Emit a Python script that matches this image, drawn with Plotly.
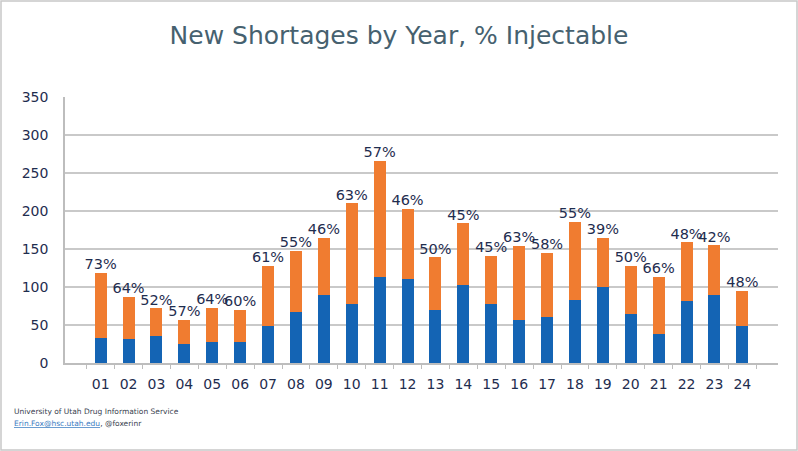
import plotly.graph_objects as go

# years (two-digit labels) and shortage counts
years = ['01', '02', '03', '04', '05', '06', '07', '08', '09', '10', '11', '12',
         '13', '14', '15', '16', '17', '18', '19', '20', '21', '22', '23', '24']
non_injectable = [33, 32, 35, 25, 27, 28, 49, 67, 90, 77, 113, 110,
                  70, 102, 78, 57, 61, 83, 100, 64, 38, 82, 90, 49]
injectable = [86, 55, 37, 32, 46, 42, 79, 81, 75, 133, 153, 93,
              69, 82, 63, 97, 84, 103, 65, 64, 75, 77, 65, 46]
pct_labels = ['73%', '64%', '52%', '57%', '64%', '60%', '61%', '55%', '46%', '63%', '57%', '46%',
              '50%', '45%', '45%', '63%', '58%', '55%', '39%', '50%', '66%', '48%', '42%', '48%']

totals = [a + b for a, b in zip(non_injectable, injectable)]

FONT = 'DejaVu Sans'
NAVY = '#1f2d4f'

fig = go.Figure()
fig.add_trace(go.Bar(x=years, y=non_injectable, marker_color='#1464b4',
                     marker_line_width=0, name='Non-injectable'))
fig.add_trace(go.Bar(x=years, y=injectable, marker_color='#f07c30',
                     marker_line_width=0, name='Injectable'))
fig.add_trace(go.Scatter(x=years, y=totals, mode='text', text=pct_labels,
                         textposition='top center', cliponaxis=False,
                         textfont=dict(family=FONT, size=14.5, color=NAVY),
                         hoverinfo='skip'))

fig.update_layout(
    width=798, height=451,
    margin=dict(l=65, r=20, t=97, b=88),
    barmode='stack', bargap=0.57,
    showlegend=False,
    paper_bgcolor='white', plot_bgcolor='white',
    title=dict(text='New Shortages by Year, % Injectable', x=0.5, xanchor='center',
               y=0.922, yanchor='middle',
               font=dict(family=FONT, size=25, color='#46616f')),
    font=dict(family=FONT, color=NAVY),
)
fig.update_yaxes(range=[0, 350], dtick=50, showgrid=True, gridcolor='#c9c9c9', gridwidth=1.5,
                 zeroline=False, showline=True, linecolor='#bdbdbd', linewidth=1.5,
                 ticks='', ticklabelstandoff=12,
                 tickfont=dict(family=FONT, size=14, color=NAVY))
fig.update_xaxes(type='category', showline=True, linecolor='#bdbdbd', linewidth=1.5,
                 ticks='outside', tickson='boundaries', ticklen=4, tickcolor='#bdbdbd',
                 ticklabelstandoff=7,
                 tickfont=dict(family=FONT, size=14, color=NAVY))

# footer credits
fig.add_annotation(text='University of Utah Drug Information Service', xref='paper', yref='paper',
                   x=-0.074, y=-0.184, xanchor='left', yanchor='middle', showarrow=False,
                   font=dict(family=FONT, size=7.5, color='#3a3f4f'))
fig.add_annotation(text="<span style='color:#3a7cc2'><u>Erin.Fox@hsc.utah.edu</u></span>, @foxerinr",
                   xref='paper', yref='paper',
                   x=-0.074, y=-0.226, xanchor='left', yanchor='middle', showarrow=False,
                   font=dict(family=FONT, size=7.5, color='#3a3f4f'))

# thin frame around the whole slide
fig.add_shape(type='rect', xref='paper', yref='paper',
              x0=-64 / 713, x1=1 + 19 / 713, y0=-87 / 266, y1=1 + 96 / 266,
              line=dict(color='#c8c8c8', width=1.5))

fig.write_html('out.html', config={'displayModeBar': False},
               post_script="document.body.style.margin='0';")
